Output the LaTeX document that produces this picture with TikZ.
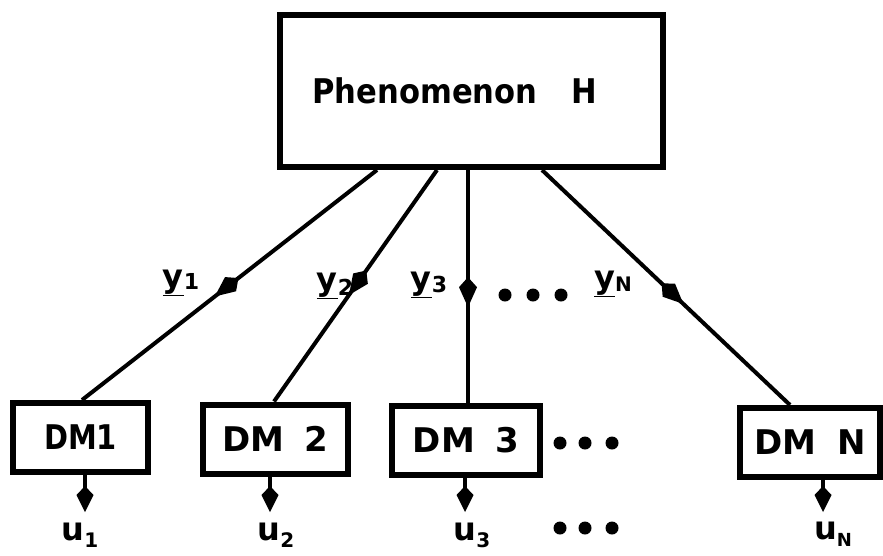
\documentclass[tikz,border=0pt]{standalone}
\usepackage{fontspec}
\setmainfont{DejaVu Sans}
\usetikzlibrary{arrows.meta,decorations.markings}
\tikzset{
  phenbox/.style={draw, line width=6pt, minimum width=383pt, minimum height=152pt, inner sep=0pt, font=\fontsize{34}{38}\selectfont\bfseries},
  dmbox/.style={draw, line width=6pt, minimum height=69pt, inner sep=0pt, font=\fontsize{34}{38}\selectfont\bfseries},
  link/.style={line width=4pt},
  midarrow/.style={postaction={decorate}, decoration={markings, mark=at position #1 with {\arrow{Kite[length=30pt,width=18pt,inset'=10pt]}}}},
  outarrow/.style={line width=4.5pt, -{Kite[length=26pt,width=17pt,inset'=9pt]}},
  lab/.style={font=\fontsize{32}{36}\selectfont\bfseries, inner sep=0pt},
  dot/.style={circle, fill, inner sep=0pt, minimum size=13pt}
}
\begin{document}
\begin{tikzpicture}[x=1pt,y=-1pt]
\useasboundingbox (0,0) rectangle (883,555);
\node[phenbox] (H) at (471.5,91) {\scalebox{0.9}[1]{Phenomenon\hspace{1.1em}H}\hspace*{34pt}};
\node[dmbox, minimum width=135pt] (D1) at (80.5,437.5) {\scalebox{0.85}[1]{DM1}};
\node[dmbox, minimum width=145pt] (D2) at (275.5,439) {DM\hspace{0.6em}2};
\node[dmbox, minimum width=148pt] (D3) at (466,440) {DM\hspace{0.6em}3};
\node[dmbox, minimum width=140pt] (DN) at (810,442.5) {DM\hspace{0.6em}N};
% links from phenomenon
\draw[link, midarrow=0.55] ([xshift=100pt]H.south west) -- ([xshift=72pt]D1.north west);
\draw[link, midarrow=0.54] ([xshift=160pt]H.south west) -- ([xshift=74pt]D2.north west);
\draw[link, midarrow=0.59] ([xshift=2pt]D3.north |- H.south) -- ([xshift=2pt]D3.north);
\draw[link, midarrow=0.57] ([xshift=265pt]H.south west) -- ([xshift=53pt]DN.north west);
% labels
\node[lab] (y1) at (181,283) {\underline{y}\raisebox{-0.15ex}{\fontsize{22}{24}\selectfont 1}};
\node[lab] (y2) at (335,286) {\underline{y}\raisebox{-0.3ex}{\fontsize{22}{24}\selectfont 2}};
\node[lab] (y3) at (429,285) {\underline{y}\raisebox{-0.2ex}{\fontsize{22}{24}\selectfont 3}};
\node[lab] (yN) at (613,284) {\underline{y}\raisebox{-0.2ex}{\fontsize{20}{24}\selectfont N}};
\node[dot] (t1) at (505,295) {};
\node[dot] (t2) at (533,295) {};
\node[dot] (t3) at (561,295) {};
% outputs
\coordinate (o1) at (85,512);
\coordinate (o2) at (270,512);
\coordinate (o3) at (465,512);
\coordinate (oN) at (823,512);
\draw[outarrow] (D1.south -| o1) -- (o1);
\draw[outarrow] (D2.south -| o2) -- (o2);
\draw[outarrow] (D3.south -| o3) -- (o3);
\draw[outarrow] (DN.south -| oN) -- (oN);
\node[lab] (u1) at (80,535) {u\raisebox{-0.4ex}{\fontsize{20}{24}\selectfont 1}};
\node[lab] (u2) at (276,535) {u\raisebox{-0.4ex}{\fontsize{20}{24}\selectfont 2}};
\node[lab] (u3) at (472,535) {u\raisebox{-0.4ex}{\fontsize{20}{24}\selectfont 3}};
\node[lab] (uN) at (833,534) {u\raisebox{-0.4ex}{\fontsize{18}{24}\selectfont N}};
% dots
\node[dot] (m1) at (560,443) {};
\node[dot] (m2) at (585,443) {};
\node[dot] (m3) at (612,443) {};
\node[dot] (b1) at (560,528) {};
\node[dot] (b2) at (585,528) {};
\node[dot] (b3) at (612,528) {};
\end{tikzpicture}
\end{document}
